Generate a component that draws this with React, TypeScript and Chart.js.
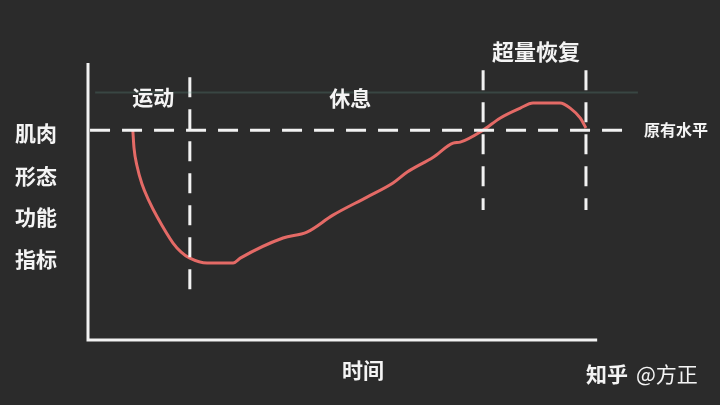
import React, { useEffect, useRef } from 'react';
import Chart from 'chart.js/auto';

// curve of the muscle index over time (time 0..100 = length of the x axis)
const curveTime = [8.8, 9.04, 9.63, 10.6, 12.0, 13.6, 16.7, 18.3, 20.0, 23.4, 28.5, 29.9, 38.3, 43.0, 48.1, 54.8, 59.9, 62.7, 67.8, 71.7, 73.1, 77.6, 80.9, 84.9, 87.4, 92.7, 94.7, 96.7, 97.8];
const curveLevel = [100, 91.4, 82.9, 74.3, 66.2, 58.6, 46.2, 41.9, 39, 36.7, 36.7, 39, 48.6, 51.4, 59.5, 68.1, 74.8, 80, 87.1, 93.8, 94.3, 100, 105.7, 110.5, 112.9, 112.9, 110.5, 105.7, 101];

// phases separated by dashed verticals
const phaseLabels = ['运动', '休息', '超量恢复'];
const phaseBounds = [20, 77.6, 97.8];

const baselineLevel = 100;
const baselineLabel = '原有水平';
const yLabelLines = ['肌肉', '形态', '功能', '指标'];
const xLabel = '时间';
const watermark = ['知乎', '@方正'];

const X_MAX = 120;
const Y_MAX = 132;
const AXIS_END = 100;

const FONT = '"Noto Sans CJK SC", "Noto Sans", sans-serif';

const labelsPlugin = {
  id: 'boardLabels',
  afterDatasetsDraw(chart: any) {
    const { ctx } = chart;
    const x = chart.scales.x;
    const y = chart.scales.y;
    ctx.save();
    ctx.fillStyle = '#f4f4f4';
    ctx.textAlign = 'center';
    ctx.textBaseline = 'middle';

    // phase names
    ctx.font = `bold 21px ${FONT}`;
    ctx.fillText(phaseLabels[0], x.getPixelForValue(12.8), y.getPixelForValue(115.7));
    ctx.fillText(phaseLabels[1], x.getPixelForValue(51.5), y.getPixelForValue(115.4));
    ctx.font = `bold 22px ${FONT}`;
    ctx.fillText(phaseLabels[2], x.getPixelForValue(88), y.getPixelForValue(137.2));

    // baseline label
    ctx.font = `bold 16px ${FONT}`;
    ctx.fillText(baselineLabel, x.getPixelForValue(115.5), y.getPixelForValue(baselineLevel));

    // y axis title, stacked
    ctx.font = `bold 21px ${FONT}`;
    const rows = [98.6, 78.1, 58.6, 38.6];
    yLabelLines.forEach((t, i) => {
      ctx.fillText(t, x.getPixelForValue(-10.2), y.getPixelForValue(rows[i]));
    });

    // x axis title
    ctx.fillText(xLabel, x.getPixelForValue(54), y.getPixelForValue(-14.3));

    // watermark
    ctx.textAlign = 'left';
    ctx.font = `bold 21px ${FONT}`;
    ctx.fillText(watermark[0], 586, 374);
    const w = ctx.measureText(watermark[0]).width + 8;
    ctx.font = `21px ${FONT}`;
    ctx.fillText(watermark[1], 586 + w, 374);
    ctx.restore();
  },
};

const App: React.FC = () => {
  const chartRef = useRef<HTMLCanvasElement>(null);
  const chartInstance = useRef<Chart | null>(null);

  useEffect(() => {
    document.body.style.margin = '0';
    if (!chartRef.current) return;
    if (chartInstance.current) chartInstance.current.destroy();

    const curve = curveTime.map((t, i) => ({ x: t, y: curveLevel[i] }));
    const white = '#f2f2f2';
    const dashed = {
      borderColor: white,
      borderWidth: 3,
      borderDash: [20, 12],
      pointRadius: 0,
      clip: false as any,
      tension: 0,
    };

    chartInstance.current = new Chart(chartRef.current, {
      type: 'line',
      data: {
        datasets: [
          {
            // faint chalk smear
            data: [{ x: 1.4, y: 118 }, { x: 108, y: 118 }],
            borderColor: 'rgba(100, 150, 140, 0.25)',
            borderWidth: 2,
            pointRadius: 0,
            clip: false as any,
          },
          {
            data: [{ x: 0.4, y: baselineLevel }, { x: 106.5, y: baselineLevel }],
            ...dashed,
          },
          {
            data: [{ x: phaseBounds[0], y: 125.2 }, { x: phaseBounds[0], y: 22.5 }],
            ...dashed,
          },
          {
            data: [{ x: phaseBounds[1], y: 128.6 }, { x: phaseBounds[1], y: 61.9 }],
            ...dashed,
          },
          {
            data: [{ x: phaseBounds[2], y: 128.6 }, { x: phaseBounds[2], y: 61.9 }],
            ...dashed,
          },
          {
            // axes
            data: [{ x: 0, y: Y_MAX }, { x: 0, y: 0 }, { x: AXIS_END, y: 0 }],
            borderColor: white,
            borderWidth: 3,
            pointRadius: 0,
            clip: false as any,
          },
          {
            data: curve,
            borderColor: '#e46a66',
            borderWidth: 3,
            pointRadius: 0,
            cubicInterpolationMode: 'monotone',
            clip: false as any,
          },
        ],
      },
      options: {
        responsive: true,
        maintainAspectRatio: false,
        animation: false,
        layout: { padding: { left: 88, right: 21, top: 63, bottom: 65 } },
        plugins: {
          legend: { display: false },
          tooltip: { enabled: false },
        },
        scales: {
          x: { type: 'linear', min: 0, max: X_MAX, display: false },
          y: { type: 'linear', min: 0, max: Y_MAX, display: false },
        },
      },
      plugins: [labelsPlugin],
    });

    return () => {
      if (chartInstance.current) {
        chartInstance.current.destroy();
        chartInstance.current = null;
      }
    };
  }, []);

  return (
    <div style={{ width: 720, height: 405, background: '#2b2b2b', position: 'relative' }}>
      <canvas ref={chartRef}></canvas>
    </div>
  );
};

export default App;
